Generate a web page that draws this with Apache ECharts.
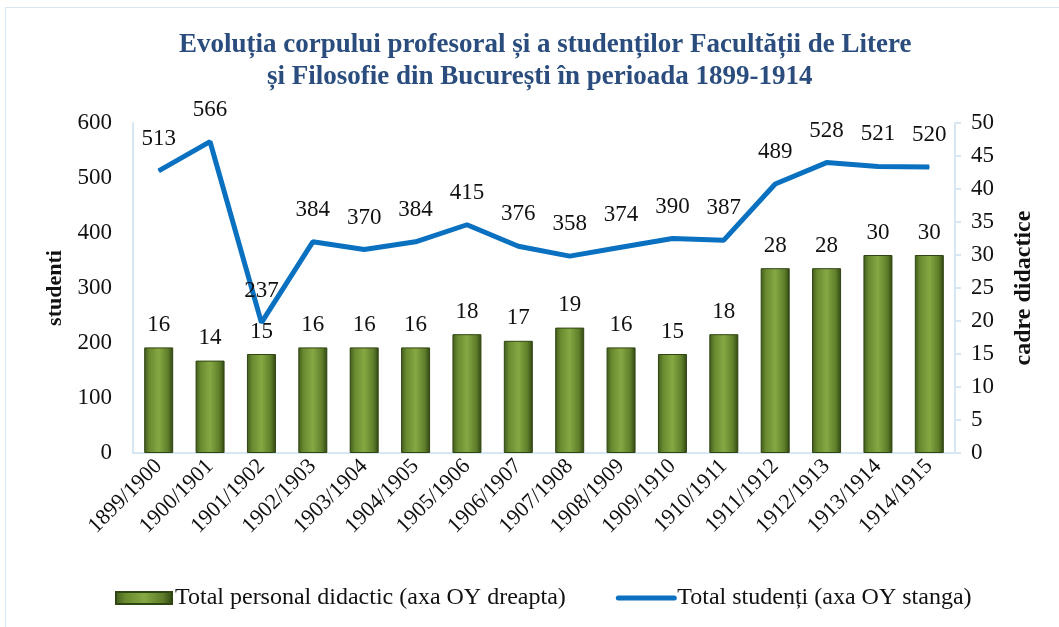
<!DOCTYPE html>
<html><head><meta charset="utf-8">
<script src="https://cdn.jsdelivr.net/npm/echarts@6/dist/echarts.min.js"></script>
<style>html,body{margin:0;padding:0;background:#fff}#c{width:1059px;height:627px}
#frame{position:absolute;left:5px;top:7px;width:1060px;height:640px;border:1px solid #d6e6f2;pointer-events:none}</style>
</head><body><div id="c"></div><div id="frame"></div>
<script>
const categories = ['1899/1900','1900/1901','1901/1902','1902/1903','1903/1904','1904/1905','1905/1906','1906/1907','1907/1908','1908/1909','1909/1910','1910/1911','1911/1912','1912/1913','1913/1914','1914/1915'];
const staff = [16,14,15,16,16,16,18,17,19,16,15,18,28,28,30,30];
const students = [513,566,237,384,370,384,415,376,358,374,390,387,489,528,521,520];
const leftTicks = [0,100,200,300,400,500,600];
const rightTicks = [0,5,10,15,20,25,30,35,40,45,50];
const titleLines = ['Evoluția corpului profesoral și a studenților Facultății de Litere','și Filosofie din București în perioada 1899-1914'];
</script>
<script>
const F = '"Liberation Serif","Times New Roman",serif';
const green = {type:'linear',x:0,y:0,x2:1,y2:0,colorStops:[
  {offset:0,color:'#3f5a1c'},{offset:0.18,color:'#6a8a30'},{offset:0.5,color:'#86a843'},
  {offset:0.82,color:'#5f7e2a'},{offset:1,color:'#2f4512'}]};
const tStyle = {fontFamily:F,fontSize:27,fontWeight:'bold',color:'#2a4d7e'};
const chart = echarts.init(document.getElementById('c'));
chart.setOption({
  animation:false,
  title:[
    {text:titleLines[0],left:174,top:27,textStyle:tStyle},
    {text:titleLines[1],left:262,top:59,textStyle:tStyle}
  ],
  grid:{left:133,right:104,top:123,bottom:174},
  legend:{bottom:12,left:110,itemGap:50,itemWidth:56,itemHeight:12,
    textStyle:{fontFamily:F,fontSize:24,color:'#111',padding:[0,0,0,-2]},
    data:[{name:'Total personal didactic (axa OY dreapta)',icon:'rect'},
          {name:'Total studenți (axa OY stanga)',itemStyle:{opacity:0},lineStyle:{width:5,cap:'round'}}]},
  xAxis:{type:'category',data:categories,
    axisLine:{lineStyle:{color:'#d6e6f2',width:2}},axisTick:{show:false},
    axisLabel:{rotate:45,interval:0,fontFamily:F,fontSize:22,color:'#111',margin:10}},
  yAxis:[
    {type:'value',min:0,max:600,interval:100,position:'left',name:'studenti',nameLocation:'middle',nameGap:66,nameRotate:90,
      nameTextStyle:{fontFamily:F,fontSize:22,fontWeight:'bold',color:'#111'},
      axisLine:{show:true,lineStyle:{color:'#d6e6f2',width:2}},axisTick:{show:false},splitLine:{show:false},
      axisLabel:{fontFamily:F,fontSize:23,color:'#111',margin:21}},
    {type:'value',min:0,max:50,interval:5,position:'right',name:'cadre didactice',nameLocation:'middle',nameGap:57,nameRotate:90,
      nameTextStyle:{fontFamily:F,fontSize:24,fontWeight:'bold',color:'#111'},
      axisLine:{show:true,lineStyle:{color:'#d6e6f2',width:2}},axisTick:{show:true,length:6,lineStyle:{color:'#d6e6f2',width:2}},splitLine:{show:false},
      axisLabel:{fontFamily:F,fontSize:23,color:'#111',margin:16}}
  ],
  series:[
    {name:'Total personal didactic (axa OY dreapta)',type:'bar',yAxisIndex:1,data:staff,barWidth:29,
      itemStyle:{color:green,borderColor:'#2f4512',borderWidth:1},
      label:{show:true,position:'top',distance:11,fontFamily:F,fontSize:23,color:'#111'}},
    {name:'Total studenți (axa OY stanga)',type:'line',yAxisIndex:0,data:students,
      lineStyle:{color:'#0a70c0',width:5},itemStyle:{color:'#0a70c0'},symbol:'circle',symbolSize:1,showSymbol:true,
      label:{show:true,position:'top',distance:20,fontFamily:F,fontSize:23,color:'#111'}}
  ]
});
</script></body></html>
